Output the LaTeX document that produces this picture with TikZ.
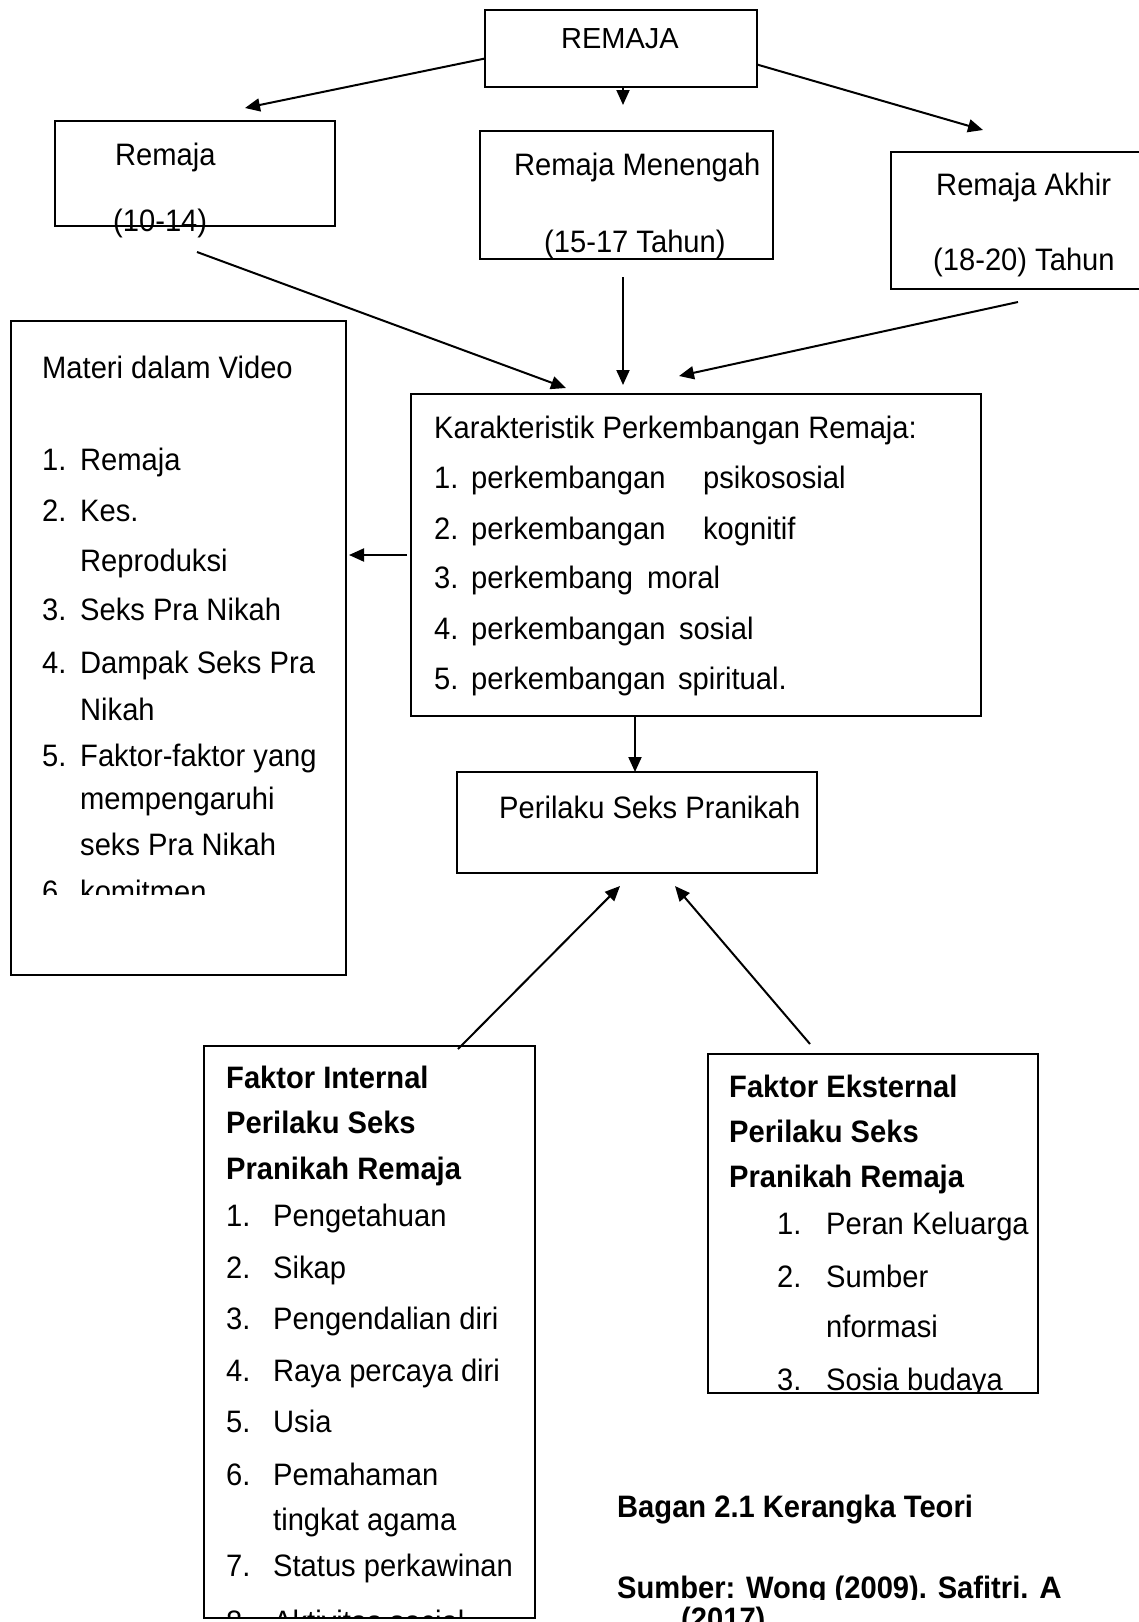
\documentclass[tikz,border=0pt]{standalone}
\usepackage{fontspec}
\setmainfont{Liberation Sans}[FakeStretch=0.94]
\newfontfamily\tegak{Liberation Sans}
\usetikzlibrary{arrows.meta}
\newcommand{\nmr}[2]{\makebox[#1][l]{#2}}

\tikzset{
kotak/.style={draw, line width=2pt, anchor=north west, inner sep=0pt, outer sep=0pt},
teks/.style={anchor=base west, inner sep=0pt, font=\fontsize{31}{37}\selectfont},
tebal/.style={teks, font=\fontsize{31}{37}\selectfont\bfseries},
panah/.style={line width=2pt, -{Triangle[length=15pt,width=13pt]}}
}

\begin{document}
\begin{tikzpicture}[x=1pt,y=-1pt]
\useasboundingbox (0,0) rectangle (1138,1622);

\node[kotak, minimum width=272pt, minimum height=77pt] (remaja) at (485,10) {};
\node[kotak, minimum width=280pt, minimum height=105pt] (awal) at (55,121) {};
\node[kotak, minimum width=293pt, minimum height=128pt] (menengah) at (480,131) {};
\node[kotak, minimum width=262pt, minimum height=137pt] (akhir) at (891,152) {};
\node[kotak, minimum width=335pt, minimum height=654pt] (materi) at (11,321) {};
\node[kotak, minimum width=570pt, minimum height=322pt] (karakter) at (411,394) {};
\node[kotak, minimum width=360pt, minimum height=101pt] (perilaku) at (457,772) {};
\node[kotak, minimum width=331pt, minimum height=572pt] (internal) at (204,1046) {};
\node[kotak, minimum width=330pt, minimum height=339pt] (eksternal) at (708,1054) {};

\node[anchor=base, inner sep=0pt, font=\tegak\fontsize{29}{35}\selectfont] (remajaT) at (620,48) {REMAJA};
\node[teks] (awalT1) at (115,165) {Remaja};
\node[teks] (awalT2) at (113,231) {(10-14)};
\node[teks] (menengahT1) at (514,175) {Remaja Menengah};
\node[teks] (menengahT2) at (544,252) {(15-17 Tahun)};
\node[teks] (akhirT1) at (936,195) {Remaja Akhir};
\node[teks] (akhirT2) at (933,270) {(18-20) Tahun};

% materi dalam video
\node[teks] (materiT) at (42,378) {Materi dalam Video};
\node[teks] (materi1) at (42,470) {\nmr{38pt}{1.}Remaja};
\node[teks] (materi2) at (42,521) {\nmr{38pt}{2.}Kes.};
\node[teks] (materi2b) at (80,571) {Reproduksi};
\node[teks] (materi3) at (42,620) {\nmr{38pt}{3.}Seks Pra Nikah};
\node[teks] (materi4) at (42,673) {\nmr{38pt}{4.}Dampak Seks Pra};
\node[teks] (materi4b) at (80,720) {Nikah};
\node[teks] (materi5) at (42,766) {\nmr{38pt}{5.}Faktor-faktor yang};
\node[teks] (materi5b) at (80,809) {mempengaruhi};
\node[teks] (materi5c) at (80,855) {seks Pra Nikah};
\begin{scope}
\clip (11,321) rectangle (346,894);
\node[teks] (materi6) at (42,902) {\nmr{38pt}{6.}komitmen};
\end{scope}

% karakteristik
\node[teks] (karakterT) at (434,438) {Karakteristik Perkembangan Remaja:};
\node[teks] (karakter1) at (434,488) {\nmr{37pt}{1.}\nmr{232pt}{perkembangan}psikososial};
\node[teks] (karakter2) at (434,539) {\nmr{37pt}{2.}\nmr{232pt}{perkembangan}kognitif};
\node[teks] (karakter3) at (434,588) {\nmr{37pt}{3.}\nmr{176pt}{perkembang}moral};
\node[teks] (karakter4) at (434,639) {\nmr{37pt}{4.}\nmr{208pt}{perkembangan}sosial};
\node[teks] (karakter5) at (434,689) {\nmr{37pt}{5.}\nmr{207pt}{perkembangan}spiritual.};

\node[teks] (perilakuT) at (499,818) {Perilaku Seks Pranikah};

% faktor internal
\node[tebal] (internalT1) at (226,1088) {Faktor Internal};
\node[tebal] (internalT2) at (226,1133) {Perilaku Seks};
\node[tebal] (internalT3) at (226,1179) {Pranikah Remaja};
\node[teks] (internal1) at (226,1226) {\nmr{47pt}{1.}Pengetahuan};
\node[teks] (internal2) at (226,1278) {\nmr{47pt}{2.}Sikap};
\node[teks] (internal3) at (226,1329) {\nmr{47pt}{3.}Pengendalian diri};
\node[teks] (internal4) at (226,1381) {\nmr{47pt}{4.}Raya percaya diri};
\node[teks] (internal5) at (226,1432) {\nmr{47pt}{5.}Usia};
\node[teks] (internal6) at (226,1485) {\nmr{47pt}{6.}Pemahaman};
\node[teks] (internal6b) at (273,1530) {tingkat agama};
\node[teks] (internal7) at (226,1576) {\nmr{47pt}{7.}Status perkawinan};
\begin{scope}
\clip (204,1046) rectangle (535,1617);
\node[teks] (internal8) at (226,1632) {\nmr{47pt}{8.}Aktivitas social};
\end{scope}

% faktor eksternal
\node[tebal] (eksternalT1) at (729,1097) {Faktor Eksternal};
\node[tebal] (eksternalT2) at (729,1142) {Perilaku Seks};
\node[tebal] (eksternalT3) at (729,1187) {Pranikah Remaja};
\node[teks] (eksternal1) at (777,1234) {\nmr{49pt}{1.}Peran Keluarga};
\node[teks] (eksternal2) at (777,1287) {\nmr{49pt}{2.}Sumber};
\node[teks] (eksternal2b) at (826,1337) {nformasi};
\begin{scope}
\clip (708,1054) rectangle (1038,1392);
\node[teks] (eksternal3) at (777,1390) {\nmr{49pt}{3.}Sosia budaya};
\end{scope}

\node[tebal] (bagan) at (617,1517) {Bagan 2.1 Kerangka Teori};
\begin{scope}
\clip (600,1540) rectangle (1138,1599);
\node[tebal] (sumber) at (617,1598) {Sumber: Wong (2009). Safitri. {\tegak A}};
\end{scope}
\node[tebal] (tahun) at (681,1629) {(2017)};

\coordinate (a1) at (245,108);
\coordinate (a2) at (623,105);
\coordinate (a3) at (983,130);
\coordinate (b1) at (197,252);
\coordinate (b2) at (623,277);
\coordinate (b3) at (1018,302);
\coordinate (k1) at (566,388);
\coordinate (k2) at (623,385);
\coordinate (k3) at (679,376);
\coordinate (c0) at (635,0);
\coordinate (d1) at (458,1049);
\coordinate (d2) at (810,1044);
\coordinate (p1) at (620,886);
\coordinate (p2) at (675,886);

\draw[panah] ([yshift=-10pt]remaja.west) -- (a1);
\draw[panah] (remaja.south -| a2) -- (a2);
\draw[panah] ([yshift=-16pt]remaja.east) -- (a3);
\draw[panah] (b1) -- (k1);
\draw[panah] (b2) -- (k2);
\draw[panah] (b3) -- (k3);
\draw[panah] ([xshift=-4pt]karakter.west) -- ([xshift=3pt]karakter.west -| materi.east);
\draw[panah] (karakter.south -| c0) -- (perilaku.north -| c0);
\draw[panah] (d1) -- (p1);
\draw[panah] (d2) -- (p2);
\end{tikzpicture}
\end{document}
